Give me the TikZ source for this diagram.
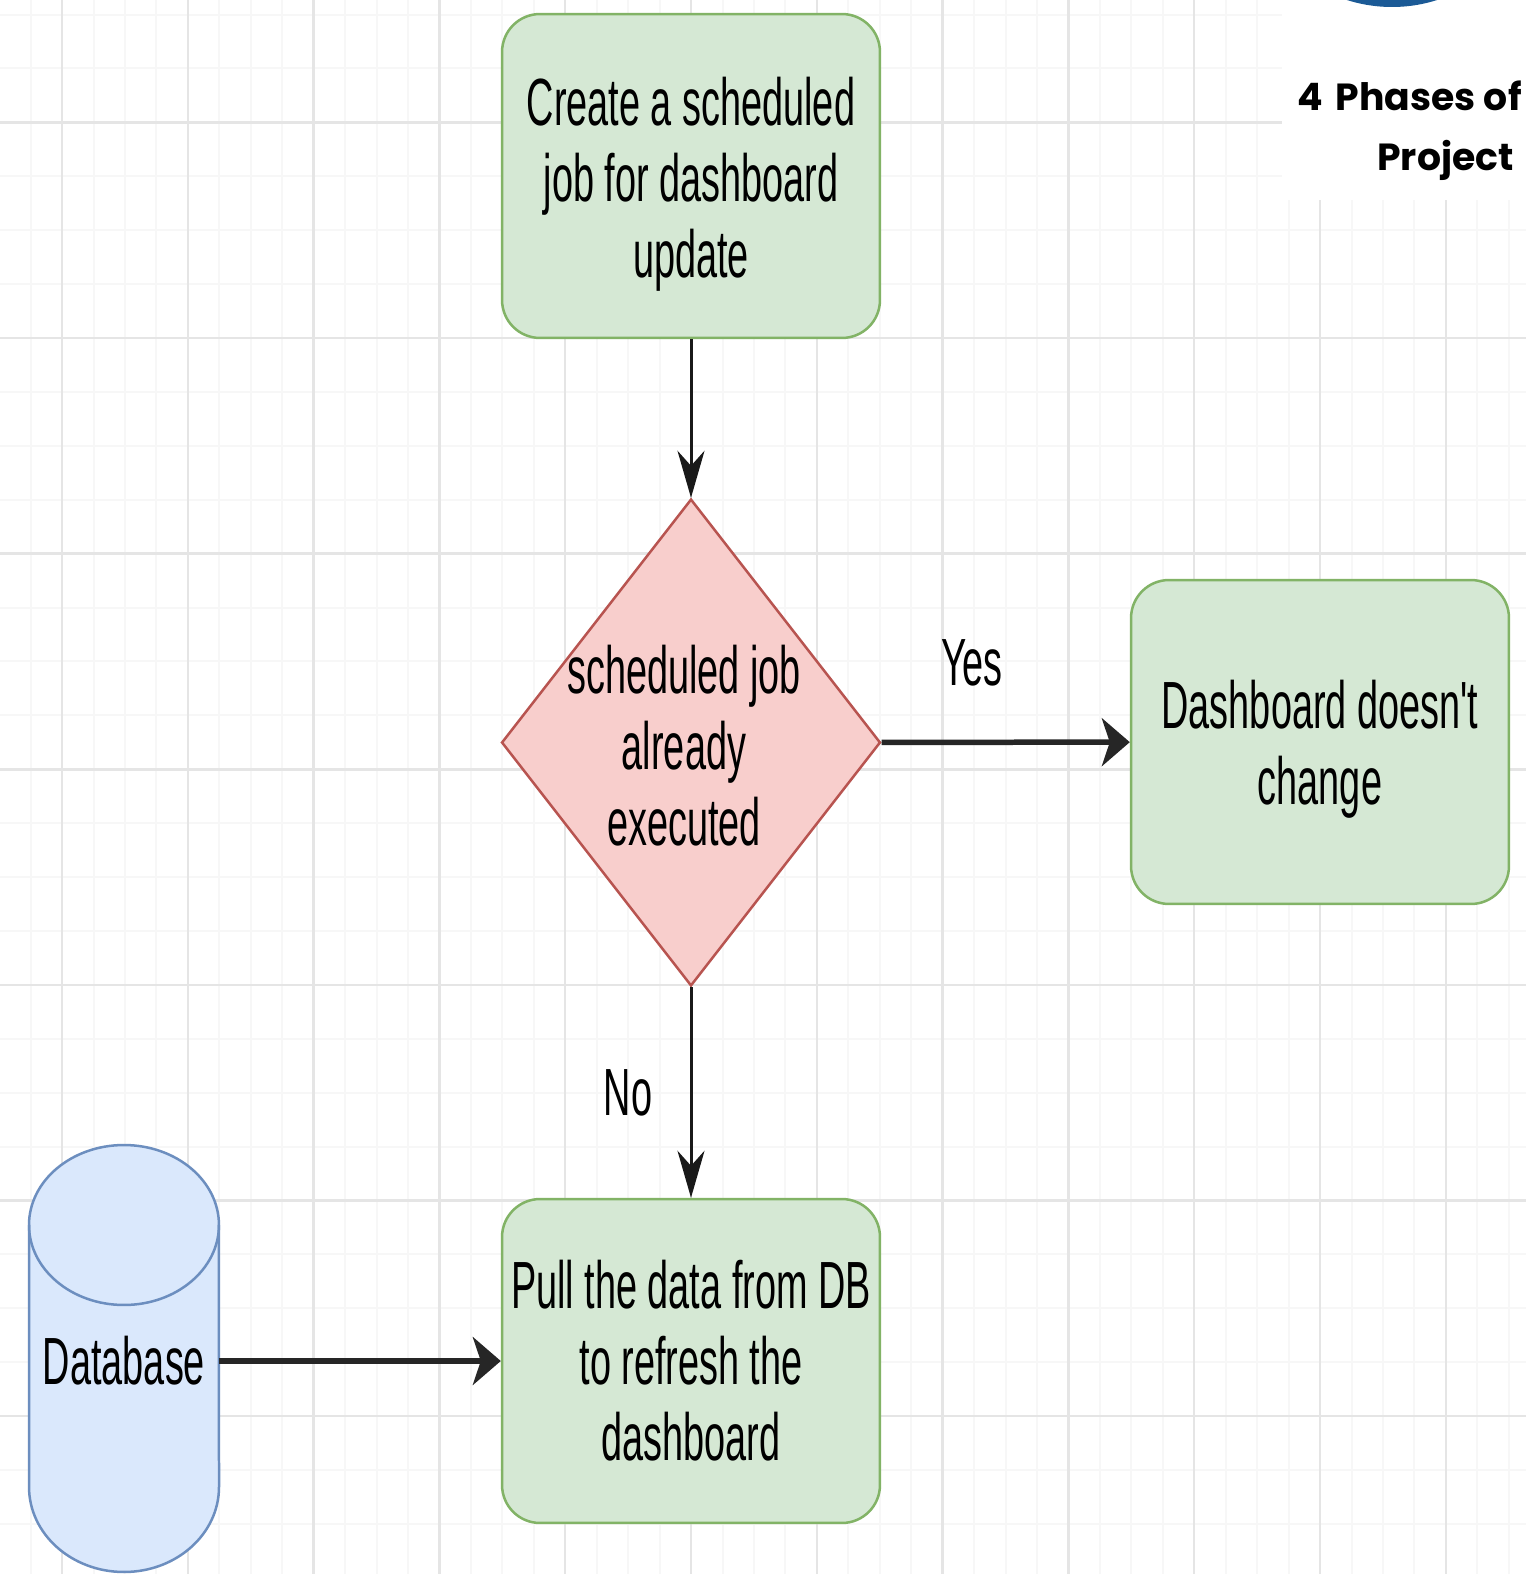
\documentclass[tikz,border=0pt]{standalone}
\usepackage{fontspec}
\setmainfont[FakeStretch=0.567]{Liberation Sans}
\newfontfamily\titlefont{Poppins}
\usetikzlibrary{arrows.meta,shapes.geometric}
\newcommand{\jobfont}{\fontsize{38}{43.2}\selectfont}
\definecolor{boxfill}{HTML}{D5E8D4}
\definecolor{boxline}{HTML}{82B366}
\definecolor{decfill}{HTML}{F8CECC}
\definecolor{decline}{HTML}{B85450}
\definecolor{dbfill}{HTML}{DAE8FC}
\definecolor{dbline}{HTML}{6C8EBF}
\definecolor{logoblue}{HTML}{1B5A96}

\begin{document}
\begin{tikzpicture}[
    x=0.02cm, y=-0.02cm,
    majorline/.style={draw=black!10, line width=0.05cm},
    minorline/.style={draw=black!3, line width=0.04cm},
    job/.style={rectangle, rounded corners=0.76cm, draw=boxline, fill=boxfill, inner sep=0pt,
        line width=0.05cm, minimum width=7.56cm, minimum height=6.48cm, align=center, font=\jobfont},
    decision/.style={diamond, inner sep=0pt, draw=decline, fill=decfill,
        line width=0.05cm, minimum width=7.58cm, minimum height=9.74cm},
    tank/.style={draw=dbline, fill=dbfill, line width=0.05cm},
    store/.style={rectangle, inner sep=0pt, minimum width=3.8cm, minimum height=8.54cm, font=\jobfont},
    flow/.style={draw=black!90, line width=0.06cm, -{Stealth[length=0.94cm, width=0.54cm, inset=0.3cm]}},
    flowthick/.style={draw=black!85, line width=0.11cm, -{Stealth[length=0.56cm, width=0.96cm, inset=0.16cm]}},
    caption/.style={font=\jobfont, inner sep=0pt},
    heading/.style={font=\titlefont\bfseries\fontsize{21.5}{24}\selectfont, inner sep=0pt},
]
\useasboundingbox (0,0) rectangle (1526,1574);
\clip (0,0) rectangle (1526,1574);

% draw the grid behind everything
\fill[white] (0,0) rectangle (1526,1574);
\foreach \k in {0,...,48} {
    \draw[minorline] (30.6+31.45*\k, 0) -- ++(0, 1574);
}
\foreach \k in {0,...,29} {
    \draw[minorline] (0, 14.6+53.9*\k) -- ++(1526, 0);
}
\foreach \k in {0,...,11} {
    \draw[majorline] (62+125.8*\k, 0) -- ++(0, 1574);
}
\foreach \k in {0,...,6} {
    \draw[majorline] (0, 122.5+215.6*\k) -- ++(1526, 0);
}

% white panel with the heading
\fill[white] (1282,0) rectangle (1526,200);
\fill[logoblue] (1392,-141) circle [radius=148];
\node[heading, anchor=base east] (phases) at (1522,111) {4\,\,Phases of};
\node[heading, anchor=base east] (project) at (1514,171) {Project};

% the boxes
\node[job] (create) at (691,176) {\rule{0pt}{37pt}Create a scheduled\\job for dashboard\\update};
\node[decision] (executed) at (691,742.5) {};
\node[caption, align=center] (executedtext) at (684,746) {scheduled job\\already\\executed};
\node[job] (nochange) at (1320,742) {\rule{0pt}{36pt}Dashboard doesn\textquotesingle\kern-3pt t\\change};
\node[job] (pull) at (691,1361) {Pull the data from DB\\to refresh the\\dashboard};

% the database: body first, then the rim of the top
\draw[tank] (29,1225) arc [start angle=180, end angle=0, x radius=1.9cm, y radius=1.6cm]
    -- (219,1487) arc [start angle=0, end angle=-180, x radius=1.9cm, y radius=1.7cm] -- cycle;
\draw[tank, fill=none] (29,1225) arc [start angle=180, end angle=360, x radius=1.9cm, y radius=1.6cm];
\node[store] (database) at (124,1361) {\raisebox{-3pt}{Database}};

% connectors
\draw[flow] (create) -- (executed);
\draw[flowthick] (executed) -- (nochange);
\draw[flow] (executed) -- node[caption, pos=0.5, xshift=-1.26cm, yshift=0cm] (nolabel) {No} (pull);
\draw[flowthick] (database) -- (pull);
\node[caption] (yeslabel) at (972,663) {Yes};
\end{tikzpicture}
\end{document}
